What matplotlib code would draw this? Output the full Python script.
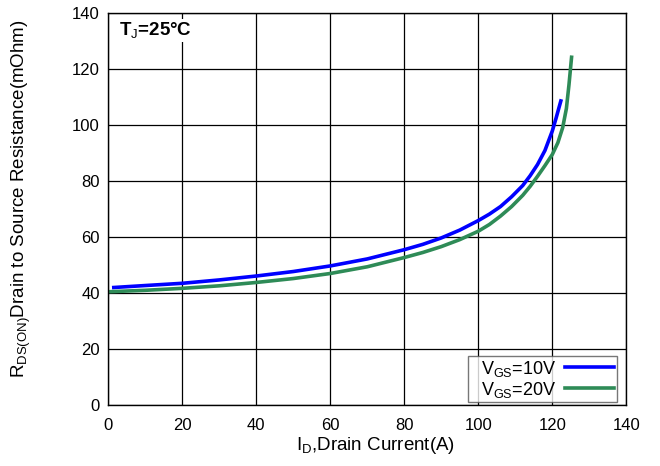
import matplotlib
matplotlib.use('Agg')
import matplotlib.pyplot as plt

plt.rcParams['font.family'] = ['Liberation Sans', 'DejaVu Sans']
plt.rcParams['mathtext.fontset'] = 'custom'
plt.rcParams['mathtext.rm'] = 'Liberation Sans'
plt.rcParams['mathtext.it'] = 'Liberation Sans'
plt.rcParams['mathtext.bf'] = 'Liberation Sans:bold'

# drain current (A) vs on-resistance (mOhm)
id_10v = [1.5, 10, 20, 30, 40, 50, 60, 70, 80, 85, 90, 95, 100, 103, 106,
          109, 112, 114, 116, 118, 120, 121, 122.3]
rds_10v = [42.1, 42.8, 43.6, 44.8, 46.2, 47.8, 49.8, 52.3, 55.6, 57.5, 59.8,
           62.6, 66.0, 68.3, 71.0, 74.5, 78.5, 82.0, 86.0, 91.0, 98.0, 102.5,
           108.7]

id_20v = [0.5, 10, 20, 30, 40, 50, 60, 70, 80, 85, 90, 95, 100, 103, 106, 109,
          112, 114, 116, 118, 120, 121.5, 122.8, 123.8, 124.5, 125.2]
rds_20v = [40.6, 41.1, 41.8, 42.7, 43.9, 45.3, 47.1, 49.5, 52.8, 54.6, 56.7,
           59.2, 62.2, 64.6, 67.6, 71.0, 75.0, 78.2, 81.8, 85.6, 89.6, 93.8,
           99.2, 106.0, 114.5, 124.3]

x_ticks = [0, 20, 40, 60, 80, 100, 120, 140]
y_ticks = [0, 20, 40, 60, 80, 100, 120, 140]

fig = plt.figure(figsize=(6.6, 4.66), dpi=100)
ax = fig.add_axes([0.164, 0.130, 0.785, 0.8415])

ax.plot(id_10v, rds_10v, color='#0000ff', lw=2.6, label=r'  V$_{\mathrm{GS}}$=10V')
ax.plot(id_20v, rds_20v, color='#2e8b57', lw=2.6, label=r'  V$_{\mathrm{GS}}$=20V')

ax.set_xlim(0, 140)
ax.set_ylim(0, 140)
ax.set_xticks(x_ticks)
ax.set_yticks(y_ticks)
ax.grid(True, color='black', lw=0.9)
ax.tick_params(length=0, labelsize=12)
ax.tick_params(axis='x', pad=9)
ax.tick_params(axis='y', pad=6)
for s in ax.spines.values():
    s.set_color('black')
    s.set_linewidth(1.0)

ax.set_xlabel(r'I$_{\mathrm{D}}$,Drain Current(A)', fontsize=13.5)
ax.xaxis.set_label_coords(0.515, -0.076)
ax.set_ylabel(r'R$_{\mathrm{DS(ON)}}$Drain to Source Resistance(mOhm)', fontsize=13.5)
ax.yaxis.set_label_coords(-0.146, 0.527)

ax.text(0.02, 0.982, r'T$_{\mathrm{J}}$=25°C', transform=ax.transAxes, fontsize=13.5,
        fontweight='bold', va='top', ha='left',
        bbox=dict(facecolor='white', edgecolor='none', pad=1))

leg = ax.legend(loc='lower right', bbox_to_anchor=(0.9815, 0.0077),
                fontsize=13, markerfirst=False, frameon=True, fancybox=False,
                edgecolor='#555555', handlelength=2.7, borderpad=0.15,
                labelspacing=0.05, handletextpad=0.5, borderaxespad=0)
leg.get_frame().set_linewidth(1.0)

fig.savefig('out.png', dpi=100)
